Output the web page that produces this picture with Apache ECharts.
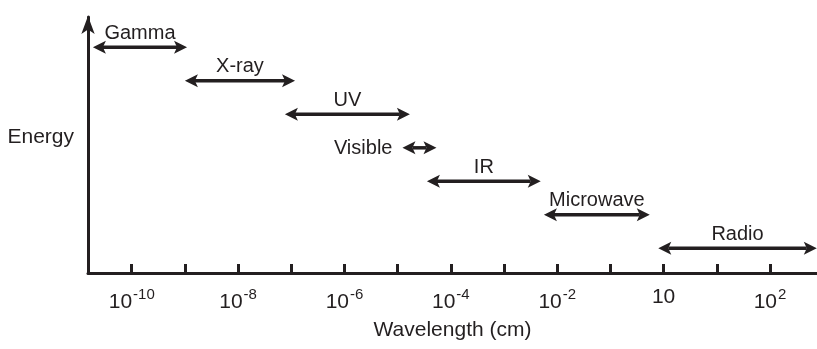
<!DOCTYPE html>
<html>
<head>
<meta charset="utf-8">
<script src="https://cdn.jsdelivr.net/npm/echarts@6/dist/echarts.min.js"></script>
<style>
html,body{margin:0;padding:0;background:#fff;}
#chart{width:817px;height:349px;}
</style>
</head>
<body>
<div id="chart"></div>
<script>
// ---- data ----
var bandNames  = ['Gamma', 'X-ray', 'UV', 'Visible', 'IR', 'Microwave', 'Radio'];
var bandStart  = [-10.73, -9.00, -7.12, -4.91, -4.45, -2.25, -0.10];   // log10-like tick units
var bandEnd    = [-8.96, -6.93, -4.77, -4.27, -2.31, -0.26, 2.88];
var bandEnergy = [7, 6, 5, 4, 3, 2, 1];                               // relative energy level
var tickValues = [-10, -9, -8, -7, -6, -5, -4, -3, -2, -1, 0, 1, 2];
var labelValues = [-10, -8, -6, -4, -2, 0, 2];
var labelBase   = ['10', '10', '10', '10', '10', '10', '10'];
var labelExp    = ['-10', '-8', '-6', '-4', '-2', '', '2'];

var INK = '#231f20';
var FONT = 'Liberation Sans, Arial, sans-serif';

var chart = echarts.init(document.getElementById('chart'));

var seriesData = bandNames.map(function (n, i) {
  return [bandStart[i], bandEnd[i], bandEnergy[i], n];
});

option = {
  animation: false,
  backgroundColor: '#ffffff',
  grid: { left: 88, right: 0, top: 17, bottom: 76, containLabel: false },
  xAxis: {
    type: 'value',
    min: -10.822,
    max: 2.884,
    name: 'Wavelength (cm)',
    nameLocation: 'middle',
    nameGap: 47,
    nameTextStyle: { color: INK, fontSize: 21, fontFamily: FONT },
    axisLine: { show: true, onZero: false, lineStyle: { color: INK, width: 3 } },
    axisTick: { show: true, inside: true, length: 9, customValues: tickValues, lineStyle: { color: INK, width: 3 } },
    axisLabel: {
      show: true,
      customValues: labelValues,
      margin: 14,
      color: INK,
      formatter: function (v) {
        var i = labelValues.indexOf(Math.round(v));
        if (i < 0) return '';
        var s = '{b|' + labelBase[i] + '}';
        if (labelExp[i]) s += '{s|' + labelExp[i] + '}';
        return s;
      },
      rich: {
        b: { fontSize: 21, fontFamily: FONT, color: INK },
        s: { fontSize: 15, fontFamily: FONT, color: INK, padding: [0, 0, 16, 1] }
      }
    },
    splitLine: { show: false }
  },
  yAxis: {
    type: 'value',
    min: 0.263,
    max: 7.905,
    name: 'Energy',
    nameLocation: 'middle',
    nameRotate: 0,
    nameGap: 14,
    nameTextStyle: { color: INK, fontSize: 21, fontFamily: FONT, verticalAlign: 'bottom', lineHeight: 15 },
    axisLine: {
      show: true, onZero: false,
      symbol: ['none', 'arrow'],
      symbolSize: [10, 18],
      symbolOffset: [0, 1],
      lineStyle: { color: INK, width: 3 }
    },
    axisTick: { show: false },
    axisLabel: { show: false },
    splitLine: { show: false }
  },
  series: [{
    type: 'custom',
    clip: false,
    data: seriesData,
    renderItem: function (params, api) {
      var x0 = api.value(0), x1 = api.value(1), lvl = api.value(2);
      var name = bandNames[params.dataIndex];
      var p0 = api.coord([x0, lvl]);
      var p1 = api.coord([x1, lvl]);
      var y = p0[1];
      var L = 13, W = 6.5, N = 3;
      var a = p0[0], b = p1[0];
      var children = [
        { type: 'line', shape: { x1: a + L - N, y1: y, x2: b - L + N, y2: y },
          style: { stroke: INK, lineWidth: 3.5 } },
        { type: 'polygon', shape: { points: [[a, y], [a + L, y - W], [a + L - N, y], [a + L, y + W]] },
          style: { fill: INK } },
        { type: 'polygon', shape: { points: [[b, y], [b - L, y - W], [b - L + N, y], [b - L, y + W]] },
          style: { fill: INK } }
      ];
      var tx, ty, align;
      if (name === 'Visible') {
        tx = a - 10; ty = y + 1; align = 'right';
      } else {
        tx = (a + b) / 2; ty = y - 14; align = 'center';
      }
      children.push({
        type: 'text',
        style: {
          text: name, x: tx, y: ty,
          fill: INK, font: '20px ' + FONT,
          align: align, verticalAlign: 'middle',
          textAlign: align, textVerticalAlign: 'middle'
        }
      });
      return { type: 'group', children: children };
    }
  }]
};
chart.setOption(option);
</script>
</body>
</html>
